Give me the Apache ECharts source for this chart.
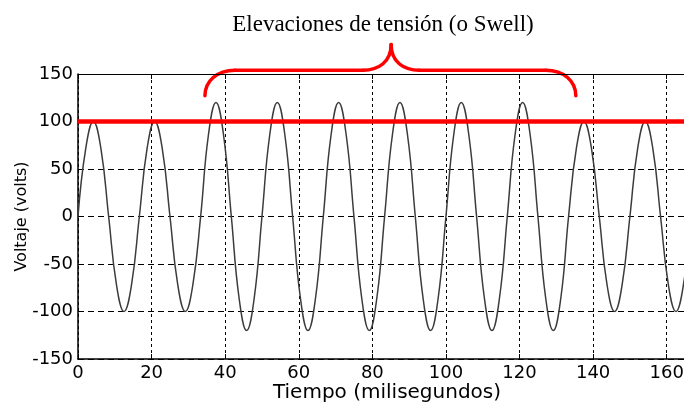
<!DOCTYPE html>
<html>
<head>
<meta charset="utf-8">
<script src="https://cdn.jsdelivr.net/npm/echarts@6/dist/echarts.min.js"></script>
<style>
html,body{margin:0;padding:0;background:#fff;}
#chart{width:684px;height:402px;}
</style>
</head>
<body>
<div id="chart"></div>
<script>
// Time samples (ms) (every eighth of a cycle)
var timeMs = [0, 2.08, 4.17, 6.25, 8.33, 10.42, 12.5, 14.58, 16.67, 18.75, 20.83, 22.92, 25, 27.08, 29.17, 31.25,
  33.33, 35.42, 37.5, 39.58, 41.67, 43.75, 45.83, 47.92, 50, 52.08, 54.17, 56.25, 58.33, 60.42, 62.5, 64.58,
  66.67, 68.75, 70.83, 72.92, 75, 77.08, 79.17, 81.25, 83.33, 85.42, 87.5, 89.58, 91.67, 93.75, 95.83, 97.92,
  100, 102.08, 104.17, 106.25, 108.33, 110.42, 112.5, 114.58, 116.67, 118.75, 120.83, 122.92, 125, 127.08, 129.17, 131.25,
  133.33, 135.42, 137.5, 139.58, 141.67, 143.75, 145.83, 147.92, 150, 152.08, 154.17, 156.25, 158.33, 160.42, 162.5, 164.58, 166.67];
// Voltage (volts) at those times
var voltage = [0, 71, 100, 71, 0, -71, -100, -71, 0, 71, 100, 71, 0, -71, -100, -71,
  0, 85, 120, 85, 0, -85, -120, -85, 0, 85, 120, 85, 0, -85, -120, -85,
  0, 85, 120, 85, 0, -85, -120, -85, 0, 85, 120, 85, 0, -85, -120, -85,
  0, 85, 120, 85, 0, -85, -120, -85, 0, 85, 120, 85, 0, -85, -120, -85,
  0, 71, 100, 71, 0, -71, -100, -71, 0, 71, 100, 71, 0, -71, -100, -71, 0];
// Nominal reference level line
var nominalLevel = 100;
var xTicks = [0, 20, 40, 60, 80, 100, 120, 140, 160];
var yTicks = [-150, -100, -50, 0, 50, 100, 150];
var xMax = 164.7;
// Swell annotation span (ms) and title
var swellStart = 34.5, swellMid = 85.1, swellEnd = 135.3;
var titleText = 'Elevaciones de tensión (o Swell)';

var wave = timeMs.map(function (t, i) { return [t, voltage[i]]; });

var chart = echarts.init(document.getElementById('chart'), null, {renderer: 'canvas'});
var sans = 'DejaVu Sans';
var option = {
  animation: false,
  backgroundColor: '#ffffff',
  title: {
    text: titleText,
    left: 378, top: 8, textAlign: 'center',
    textStyle: {fontFamily: 'Liberation Serif', fontWeight: 'normal', fontSize: 23, color: '#000'}
  },
  grid: {left: 78, right: 0, top: 74, bottom: 43, containLabel: false, outerBoundsMode: 'none'},
  xAxis: [{
    type: 'value', min: 0, max: xMax, interval: 20, position: 'bottom',
    name: 'Tiempo (milisegundos)', nameLocation: 'middle', nameGap: 24, nameMoveOverlap: false,
    nameTextStyle: {fontFamily: sans, fontSize: 20, color: '#000', padding: [0, 0, 0, 12]},
    axisLine: {show: true, onZero: false, lineStyle: {color: '#000', width: 1.5}},
    axisTick: {show: true, inside: true, length: 5, lineStyle: {color: '#000'}},
    axisLabel: {fontFamily: sans, fontSize: 18, color: '#000', margin: 5, showMaxLabel: false,
      formatter: function (v) { return xTicks.indexOf(v) >= 0 ? String(v) : ''; }},
    splitLine: {show: true, lineStyle: {color: '#000', type: [3, 3], width: 1}}
  }, {
    type: 'value', min: 0, max: xMax, interval: 20, position: 'top',
    axisLine: {show: true, onZero: false, lineStyle: {color: '#000', width: 1}},
    axisTick: {show: true, inside: true, length: 5, lineStyle: {color: '#000'}},
    axisLabel: {show: false}, splitLine: {show: false}
  }],
  yAxis: {
    type: 'value', min: -150, max: 150, interval: 50,
    name: 'Voltaje (volts)', nameLocation: 'middle', nameGap: 48, nameRotate: 90, nameMoveOverlap: false,
    nameTextStyle: {fontFamily: sans, fontSize: 16, color: '#000'},
    axisLine: {show: true, onZero: false, lineStyle: {color: '#000', width: 1.5}},
    axisTick: {show: true, inside: true, length: 5, lineStyle: {color: '#000'}},
    axisLabel: {fontFamily: sans, fontSize: 18, color: '#000', margin: 5,
      formatter: function (v) { return yTicks.indexOf(v) >= 0 ? String(v) : ''; }},
    splitLine: {show: true, lineStyle: {color: '#000', type: [6, 4], width: 1}}
  },
  series: [{
    type: 'line', data: wave, smooth: 0.45, symbol: 'none', clip: true,
    lineStyle: {color: '#3c3c3c', width: 1.5}, z: 3
  }, {
    type: 'line', data: [[0, nominalLevel], [xMax, nominalLevel]], symbol: 'none',
    lineStyle: {color: '#ff0000', width: 4.5}, z: 4
  }]
};
chart.setOption(option);

// Brace annotation above the swell region
var toPx = function (x, y) { return chart.convertToPixel({xAxisIndex: 0, yAxisIndex: 0}, [x, y]); };
var pL = toPx(swellStart, 127);
var pM = toPx(swellMid, 181);
var pR = toPx(swellEnd, 127);
var hY = toPx(0, 154)[1];
var r = 30, rm = 28;
var st = {fill: 'none', stroke: '#ff0000', lineWidth: 3.5, lineCap: 'round'};
chart.setOption({
  graphic: [{
    type: 'group', z: 10,
    children: [
      {type: 'bezierCurve', shape: {x1: pL[0], y1: pL[1], cpx1: pL[0], cpy1: hY + 11, cpx2: pL[0] + 12, cpy2: hY, x2: pL[0] + r, y2: hY}, style: st},
      {type: 'line', shape: {x1: pL[0] + r, y1: hY, x2: pM[0] - rm, y2: hY}, style: st},
      {type: 'bezierCurve', shape: {x1: pM[0] - rm, y1: hY, cpx1: pM[0] - 13, cpy1: hY, cpx2: pM[0], cpy2: hY - 8, x2: pM[0], y2: pM[1]}, style: st},
      {type: 'bezierCurve', shape: {x1: pM[0], y1: pM[1], cpx1: pM[0], cpy1: hY - 8, cpx2: pM[0] + 13, cpy2: hY, x2: pM[0] + rm, y2: hY}, style: st},
      {type: 'line', shape: {x1: pM[0] + rm, y1: hY, x2: pR[0] - r, y2: hY}, style: st},
      {type: 'bezierCurve', shape: {x1: pR[0] - r, y1: hY, cpx1: pR[0] - 12, cpy1: hY, cpx2: pR[0], cpy2: hY + 11, x2: pR[0], y2: pR[1]}, style: st}
    ]
  }]
});
</script>
</body>
</html>
